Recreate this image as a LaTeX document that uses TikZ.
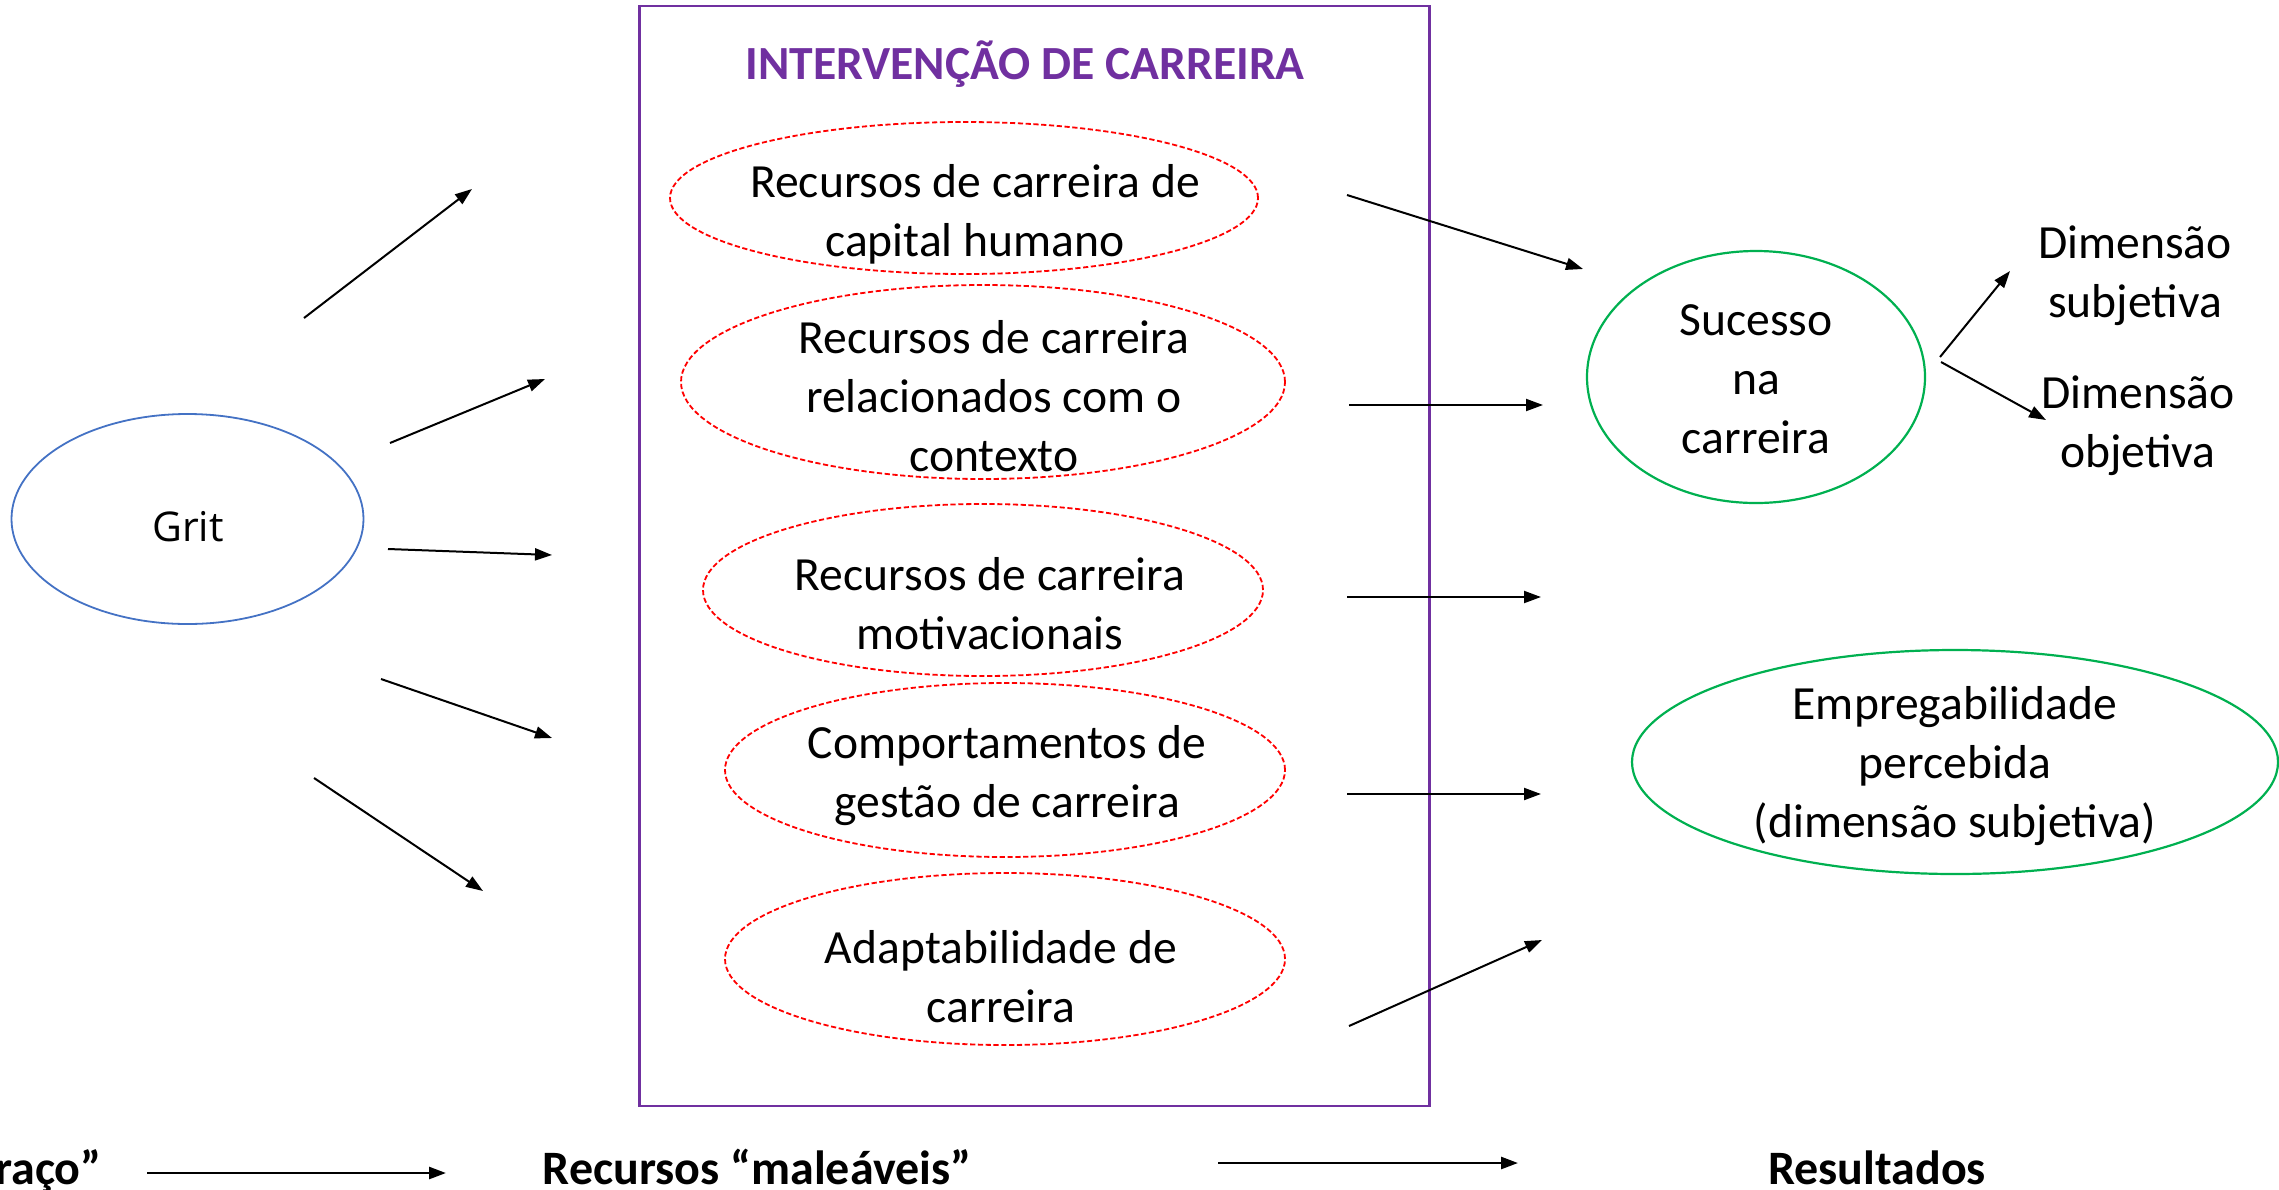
\documentclass[tikz,border=0pt]{standalone}
\usepackage{fontspec}
\setmainfont{Carlito}
\newfontfamily\gritfont{Open Sans}
\usetikzlibrary{arrows.meta,shapes.geometric}
\definecolor{purp}{HTML}{7030A0}
\definecolor{blu}{HTML}{4472C4}
\definecolor{grn}{HTML}{00B050}
\begin{document}
\begin{tikzpicture}[x=0.5pt,y=-0.5pt,
  body/.style={font=\fontsize{23.8}{29.5}\selectfont, align=center, inner sep=0pt},
  bottomtxt/.style={font=\bfseries\fontsize{24}{28}\selectfont, inner sep=0pt, anchor=base},
  redell/.style={ellipse, draw=red, dash pattern=on 2.6pt off 1.3pt, line width=0.9pt, inner sep=0pt},
  grnell/.style={ellipse, draw=grn, line width=1.1pt, inner sep=0pt},
  arr/.style={-{Triangle[length=8.5pt,width=6pt]}, line width=1pt, black}]
\useasboundingbox (0,0) rectangle (2279,1189);

% intervention box
\node[draw=purp, line width=1.3pt, minimum width=790pt*0.5, minimum height=1100pt*0.5, inner sep=0pt] (box) at (1034.5,556) {};
\node[font=\bfseries\fontsize{23.8}{28}\selectfont, text=purp, inner sep=0pt] (title) at (1025,64) {INTERVENÇÃO DE CARREIRA};

% Grit
\node[ellipse, draw=blu, line width=0.9pt, minimum width=352pt*0.5, minimum height=210pt*0.5, inner sep=0pt] (grit) at (187.5,519) {};
\node[font=\gritfont\fontsize{20.5}{24}\selectfont, inner sep=0pt] (gritt) at (188,527) {Grit};

% red ellipses
\node[redell, minimum width=588pt*0.5, minimum height=152pt*0.5] (e1) at (964,198) {};
\node[body] (t1) at (975,214) {Recursos de carreira de\\capital humano};
\node[redell, minimum width=604pt*0.5, minimum height=194pt*0.5] (e2) at (983,382) {};
\node[body] (t2) at (994,396) {Recursos de carreira\\relacionados com o\\contexto};
\node[redell, minimum width=560pt*0.5, minimum height=172pt*0.5] (e3) at (983,590) {};
\node[body] (t3) at (990,604) {Recursos de carreira\\motivacionais};
\node[redell, minimum width=560pt*0.5, minimum height=174pt*0.5] (e4) at (1005,770) {};
\node[body] (t4) at (1007,776) {Comportamentos de\\gestão de carreira};
\node[redell, minimum width=560pt*0.5, minimum height=172pt*0.5] (e5) at (1005,959) {};
\node[body] (t5) at (1001,977) {Adaptabilidade de\\carreira};

% outcomes
\node[grnell, minimum width=338pt*0.5, minimum height=252pt*0.5] (suc) at (1756,377) {};
\node[body] (suct) at (1756,379) {Sucesso\\na\\carreira};
\node[grnell, minimum width=646pt*0.5, minimum height=224pt*0.5] (emp) at (1955,762) {};
\node[body] (empt) at (1955,766) {Empregabilidade\\percebida\\(dimensão subjetiva)};
\node[body] (dsub) at (2135,276) {Dimensão\\subjetiva};
\node[body] (dobj) at (2138,426) {Dimensão\\objetiva};

% Grit arrows
\coordinate (ga1) at (304,318); \coordinate (gb1) at (472,189);
\coordinate (ga2) at (390,443); \coordinate (gb2) at (545,379);
\coordinate (ga3) at (388,549); \coordinate (gb3) at (552,555);
\coordinate (ga4) at (381,679); \coordinate (gb4) at (552,738);
\coordinate (ga5) at (314,778); \coordinate (gb5) at (483,891);
\foreach \i in {1,...,5} {\draw[arr] (ga\i) -- (gb\i);}

% right arrows
\coordinate (ra1) at (1347,195); \coordinate (rb1) at (1583,269);
\coordinate (ra2) at (1349,405); \coordinate (rb2) at (1543,405);
\coordinate (ra3) at (1347,597); \coordinate (rb3) at (1541,597);
\coordinate (ra4) at (1347,794); \coordinate (rb4) at (1541,794);
\coordinate (ra5) at (1349,1026); \coordinate (rb5) at (1542,940);
\foreach \i in {1,...,5} {\draw[arr] (ra\i) -- (rb\i);}

% success to dimensions
\coordinate (sa1) at (1940,357); \coordinate (sb1) at (2010,271);
\coordinate (sa2) at (1941,362); \coordinate (sb2) at (2046,420);
\draw[arr] (sa1) -- (sb1);
\draw[arr] (sa2) -- (sb2);

% bottom row
\node[bottomtxt, anchor=base east] (trait) at (102,1184) {“Traço”};
\node[bottomtxt] (mal) at (757,1184) {Recursos “maleáveis”};
\node[bottomtxt] (res) at (1877,1184) {Resultados};
\coordinate (ba1) at (147,1173); \coordinate (bb1) at (446,1173);
\coordinate (ba2) at (1218,1163); \coordinate (bb2) at (1518,1163);
\draw[arr, line width=1.3pt] (ba1) -- (bb1);
\draw[arr, line width=1.3pt] (ba2) -- (bb2);
\end{tikzpicture}
\end{document}
